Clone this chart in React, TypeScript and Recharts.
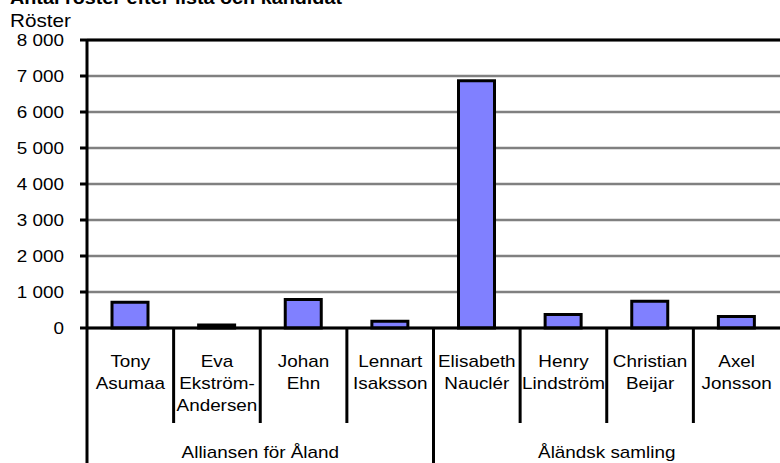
import { Bar, BarChart, CartesianGrid, ReferenceLine, XAxis, YAxis } from 'recharts'

const candidates = [
  'Tony\nAsumaa',
  'Eva\nEkström-\nAndersen',
  'Johan\nEhn',
  'Lennart\nIsaksson',
  'Elisabeth\nNauclér',
  'Henry\nLindström',
  'Christian\nBeijar',
  'Axel\nJonsson',
]
const votes = [715, 85, 795, 185, 6870, 375, 740, 320]
const lists = ['Alliansen för Åland', 'Åländsk samling']
const listIndex = [0, 0, 0, 0, 1, 1, 1, 1]
const yTicks = [0, 1000, 2000, 3000, 4000, 5000, 6000, 7000, 8000]

const data = candidates.map((name, i) => ({ name, votes: votes[i], list: listIndex[i] }))

const W = 780
const H = 463
const LEFT = 87
const TOP = 40
const AXIS_H = 135
const STEP = (W - LEFT) / candidates.length
const FONT = "'Liberation Sans', Arial, sans-serif"
const SX = 1.18

const fmt = (v: number) => (v >= 1000 ? `${Math.floor(v / 1000)}\u00A0${String(v % 1000).padStart(3, '0')}` : String(v))

function YTick(props: any) {
  const { y, payload } = props
  return (
    <text
      transform={`translate(64, ${y + 6}) scale(${SX}, 1)`}
      textAnchor="end"
      fontSize={16}
      fontFamily={FONT}
      fill="#000"
    >
      {fmt(payload.value)}
    </text>
  )
}

function XTick(props: any) {
  const { x, payload } = props
  const i = payload.index ?? props.index
  const base = H - AXIS_H
  const lines = candidates[i].split('\n')
  const left = x - STEP / 2
  const groupStart = i === 0 || listIndex[i] !== listIndex[i - 1]
  const count = listIndex.filter((g) => g === listIndex[i]).length
  return (
    <g>
      <line x1={left} x2={left} y1={base} y2={groupStart ? H : 423} stroke="#000" strokeWidth={3} />
      {lines.map((l, k) => (
        <text
          key={k}
          transform={`translate(${x}, ${367 + k * 22}) scale(${SX}, 1)`}
          textAnchor="middle"
          fontSize={16}
          fontFamily={FONT}
          fill="#000"
        >
          {l}
        </text>
      ))}
      {groupStart && (
        <text
          transform={`translate(${left + (count * STEP) / 2}, 458) scale(${SX}, 1)`}
          textAnchor="middle"
          fontSize={16}
          fontFamily={FONT}
          fill="#000"
        >
          {lists[listIndex[i]]}
        </text>
      )}
    </g>
  )
}

export default function App() {
  return (
    <div style={{ position: 'absolute', left: 0, top: 0, width: W, height: H, background: '#fff' }}>
      <BarChart width={W} height={H} data={data} margin={{ top: TOP, right: 0, bottom: 0, left: 0 }} barSize={36}>
        <text
          transform={`translate(10, 4) scale(1.1, 1)`}
          fontSize={18}
          fontWeight="bold"
          fontFamily={FONT}
          fill="#000"
        >
          Antal röster efter lista och kandidat
        </text>
        <text transform={`translate(10, 27) scale(1.15, 1)`} fontSize={18} fontFamily={FONT} fill="#000">
          Röster
        </text>
        <CartesianGrid vertical={false} stroke="#808080" strokeWidth={2.5} />
        <XAxis
          dataKey="name"
          height={AXIS_H}
          interval={0}
          tickLine={false}
          axisLine={{ stroke: '#000', strokeWidth: 3 }}
          tick={<XTick />}
        />
        <YAxis
          width={LEFT}
          domain={[0, 8000]}
          ticks={yTicks}
          tickSize={7}
          tickLine={{ stroke: '#000', strokeWidth: 3 }}
          axisLine={{ stroke: '#000', strokeWidth: 3 }}
          tick={<YTick />}
        />
        <ReferenceLine y={8000} stroke="#000" strokeWidth={3} />
        <Bar dataKey="votes" fill="#8080FF" stroke="#000" strokeWidth={3} isAnimationActive={false} />
      </BarChart>
    </div>
  )
}
